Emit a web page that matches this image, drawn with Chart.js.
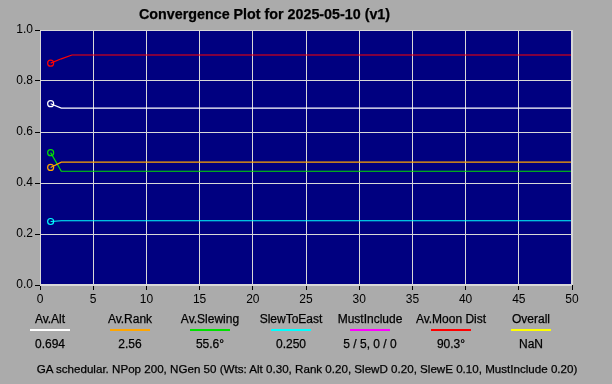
<!DOCTYPE html>
<html>
<head>
<meta charset="utf-8">
<script src="https://cdn.jsdelivr.net/npm/chart.js@4/dist/chart.umd.min.js"></script>
<style>
  html, body { margin: 0; padding: 0; background: #ababab; }
  #wrap { position: relative; width: 612px; height: 384px; background: #ababab; overflow: hidden; font-family: "Liberation Sans", Arial, sans-serif; }
  canvas { position: absolute; left: 0; top: 0; }
  .t { position: absolute; white-space: nowrap; color: #000; font-size: 12px; -webkit-text-stroke: 0.25px #000; }
  .lab { transform: translateX(-50%); }
  .ul { position: absolute; width: 40px; height: 2px; transform: translateX(-50%); }
</style>
</head>
<body>
<div id="wrap">
  <canvas id="c" width="612" height="384"></canvas>
</div>
<script>
// ---- data ----
const title = "Convergence Plot for 2025-05-10 (v1)";
const generations = [1, 2, 3, 50];
const avAlt      = [0.711, 0.694, 0.694, 0.694];
const avRank     = [0.461, 0.482, 0.482, 0.482];
const avSlewing  = [0.519, 0.446, 0.446, 0.446];
const slewToEast = [0.249, 0.252, 0.252, 0.252];
const avMoonDist = [0.870, 0.887, 0.902, 0.902];
const xTicks = [0, 5, 10, 15, 20, 25, 30, 35, 40, 45, 50];
const yTicks = [0.0, 0.2, 0.4, 0.6, 0.8, 1.0];
const legendNames  = ["Av.Alt", "Av.Rank", "Av.Slewing", "SlewToEast", "MustInclude", "Av.Moon Dist", "Overall"];
const legendValues = ["0.694", "2.56", "55.6°", "0.250", "5 / 5, 0 / 0", "90.3°", "NaN"];
const legendColors = ["#ffffff", "#ffa500", "#00e000", "#00ffff", "#ff00ff", "#ff0000", "#ffff00"];
const footnote = "GA schedular. NPop 200, NGen 50 (Wts: Alt 0.30, Rank 0.20, SlewD 0.20, SlewE 0.10, MustInclude 0.20)";

function series(vals, color) {
  return {
    data: generations.map((g, i) => ({ x: g, y: vals[i] })),
    borderColor: color,
    backgroundColor: "rgba(0,0,0,0)",
    borderWidth: 1.2,
    pointRadius: generations.map((g, i) => i === 0 ? 3 : 0),
    pointBorderWidth: 1.2,
    pointBorderColor: color,
    pointBackgroundColor: "rgba(0,0,0,0)",
    tension: 0
  };
}

const plotBg = {
  id: "plotBg",
  beforeDraw(chart) {
    const { ctx, chartArea: a } = chart;
    ctx.save();
    ctx.fillStyle = "#000080";
    ctx.fillRect(a.left, a.top, a.right - a.left, a.bottom - a.top);
    ctx.restore();
  },
  afterDraw(chart) {
    const { ctx, chartArea: a } = chart;
    ctx.save();
    ctx.strokeStyle = "#d8d8d8";
    ctx.lineWidth = 1;
    ctx.strokeRect(a.left + 0.5, a.top + 0.5, a.right - a.left - 1, a.bottom - a.top - 1);
    ctx.restore();
  }
};

new Chart(document.getElementById("c"), {
  type: "line",
  data: {
    datasets: [
      series(avAlt, legendColors[0]),
      series(avRank, legendColors[1]),
      series(avSlewing, "#00e000"),
      series(slewToEast, legendColors[3]),
      series(avMoonDist, legendColors[5])
    ]
  },
  options: {
    responsive: false,
    animation: false,
    devicePixelRatio: 1,
    layout: { padding: { top: 30, right: 40, left: 0, bottom: 0 } },
    plugins: { legend: { display: false }, tooltip: { enabled: false }, title: { display: false } },
    scales: {
      x: {
        type: "linear", min: 0, max: 50,
        afterBuildTicks(s) { s.ticks = xTicks.map(v => ({ value: v })); },
        afterFit(s) { s.height = 99; },
        grid: { color: "#d8d8d8", lineWidth: 1, tickColor: "#000", tickLength: 5, drawTicks: true },
        border: { display: false },
        ticks: { color: "#000", font: { family: "Liberation Sans", size: 12 }, padding: 2, maxRotation: 0,
                 callback: v => String(v) }
      },
      y: {
        type: "linear", min: 0, max: 1,
        afterBuildTicks(s) { s.ticks = yTicks.map(v => ({ value: v })); },
        afterFit(s) { s.width = 40; },
        grid: { color: "#d8d8d8", lineWidth: 1, tickColor: "#000", tickLength: 5, drawTicks: true },
        border: { display: false },
        ticks: { color: "#000", font: { family: "Liberation Sans", size: 12 }, padding: 2,
                 callback: v => Number(v).toFixed(1) }
      }
    }
  },
  plugins: [plotBg]
});

// ---- text outside the plot ----
const wrap = document.getElementById("wrap");
function addText(txt, x, y, cls, extra) {
  const d = document.createElement("div");
  d.className = "t " + (cls || "");
  d.textContent = txt;
  d.style.left = x + "px";
  d.style.top = y + "px";
  if (extra) Object.assign(d.style, extra);
  wrap.appendChild(d);
  return d;
}
addText(title, 139, 6, "", { fontWeight: "bold", fontSize: "14.3px" });
const centers = [50, 130, 210, 291, 370, 451, 531];
legendNames.forEach((n, i) => {
  addText(n, centers[i], 312, "lab");
  const u = document.createElement("div");
  u.className = "ul";
  u.style.left = centers[i] + "px";
  u.style.top = "329px";
  u.style.background = legendColors[i];
  wrap.appendChild(u);
  addText(legendValues[i], centers[i], 337, "lab");
});
addText(footnote, 307, 362, "lab", { fontSize: "11.6px" });
</script>
</body>
</html>
